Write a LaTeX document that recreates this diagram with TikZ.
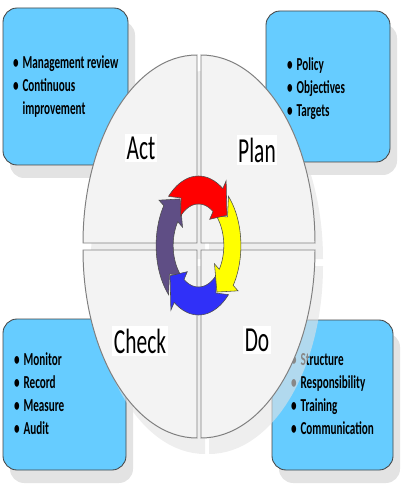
\documentclass[tikz,border=0pt]{standalone}
\usepackage{fontspec}
\setmainfont{Carlito}
\usepackage{tikz}
\usetikzlibrary{positioning}

\definecolor{boxblue}{HTML}{66CCFF}
\definecolor{boxline}{HTML}{454545}
\definecolor{ringred}{HTML}{FF0000}
\definecolor{ringyellow}{HTML}{FFFF00}
\definecolor{ringblue}{HTML}{3030F8}
\definecolor{ringpurple}{HTML}{5F4E85}
\definecolor{quadfill}{HTML}{F3F3F3}
\definecolor{quadline}{HTML}{7F7F7F}
\definecolor{shadowgray}{HTML}{E3E3E3}
\newcommand{\notelist}[1]{\begin{tabular}{@{}l@{\hspace{4.5pt}}l@{}}#1\end{tabular}}

\begin{document}
\begin{tikzpicture}[
  x=0.025cm, y=-0.025cm,
  box/.style={fill=boxblue, draw=boxline, line width=0.6pt, rounded corners=10pt},
  boxshadow/.style={fill=shadowgray, rounded corners=10pt},
  quad/.style={fill=quadfill, draw=quadline, line width=0.7pt},
  quadshadow/.style={fill=shadowgray, fill opacity=0.6},
  phase/.style={font=\fontsize{25}{30}\selectfont, fill=white, inner sep=2pt, xscale=0.61},
  notes/.style={anchor=west, inner sep=0pt, xscale=0.61, font=\fontsize{13}{16.4}\selectfont\bfseries},
  cyclearrow/.style={draw=gray!60!black, line width=0.4pt}
]
\useasboundingbox (0,0) rectangle (402,491);

% shadow of the upper half of the circle
\begin{scope}[shift={(199,246.5)}, yscale=-1]
  \foreach \dx/\dy/\a in {-2/3.5/90, 2/3.5/0}
    \path[quadshadow] ({\dx+8},{\dy-16}) -- ++(\a:114 and 188)
      arc[start angle=\a, end angle=\a+90, x radius=114, y radius=188] -- cycle;
\end{scope}

% the four note boxes
\foreach \xa/\ya/\xb/\yb in {3/8/128/165, 266/11/390/162, 3/319/126/470, 272/320/393/470}{
  \path[boxshadow] ({\xa+7},{\ya+13}) rectangle ({\xb+7},{\yb+13});
  \path[box] (\xa,\ya) rectangle (\xb,\yb);
}

\node[notes] (actnotes) at (13,87) {\notelist{
  \textbullet & Management review\\
  \textbullet & Continuous\\
              & improvement}};
\node[notes] (plannotes) at (287,88.5) {\notelist{
  \textbullet & Policy\\
  \textbullet & Objectives\\
  \textbullet & Targets}};
\node[notes] (checknotes) at (14,395) {\notelist{
  \textbullet & Monitor\\
  \textbullet & Record\\
  \textbullet & Measure\\
  \textbullet & Audit}};
\node[notes] (donotes) at (291,395) {\notelist{
  \textbullet & Structure\\
  \textbullet & Responsibility\\
  \textbullet & Training\\
  \textbullet & Communication}};

% circle: shadow of lower half, then the quadrants
\begin{scope}[shift={(199,246.5)}, yscale=-1]
  \foreach \dx/\dy/\a in {2/-3.5/270, -2/-3.5/180}
    \path[quadshadow] ({\dx+8},{\dy-16}) -- ++(\a:114 and 188)
      arc[start angle=\a, end angle=\a+90, x radius=114, y radius=188] -- cycle;
  \foreach \dx/\dy/\a in {-2/3.5/90, 2/3.5/0, 2/-3.5/270, -2/-3.5/180}
    \path[quad] (\dx,\dy) -- ++(\a:114 and 188)
      arc[start angle=\a, end angle=\a+90, x radius=114, y radius=188] -- cycle;
\end{scope}

\node[phase] (act) at (141,148) {Act};
\node[phase] (plan) at (257,150) {Plan};
\node[phase] (check) at (140,341) {Check};
\node[phase] (do) at (257,340) {Do};

% the cycle of four arrows
\begin{scope}[shift={(198.5,245.5)}, xscale=0.61, yscale=-1]
  \foreach \t/\col in {225/ringpurple, -45/ringblue, 45/ringyellow, 135/ringred}{
    \pgfmathsetmacro\hb{\t-80}
    \pgfmathsetmacro\tp{\t-102}
    \filldraw[cyclearrow, fill=\col] plot[domain=\t:\hb, samples=24] (\x:69.5)
      -- (\hb:79) -- (\tp:55.5) -- (\hb:32)
      -- plot[domain=\hb:\t, samples=24] (\x:41.5) -- ({\t-14}:55.5) -- cycle;
  }
\end{scope}
\end{tikzpicture}
\end{document}
